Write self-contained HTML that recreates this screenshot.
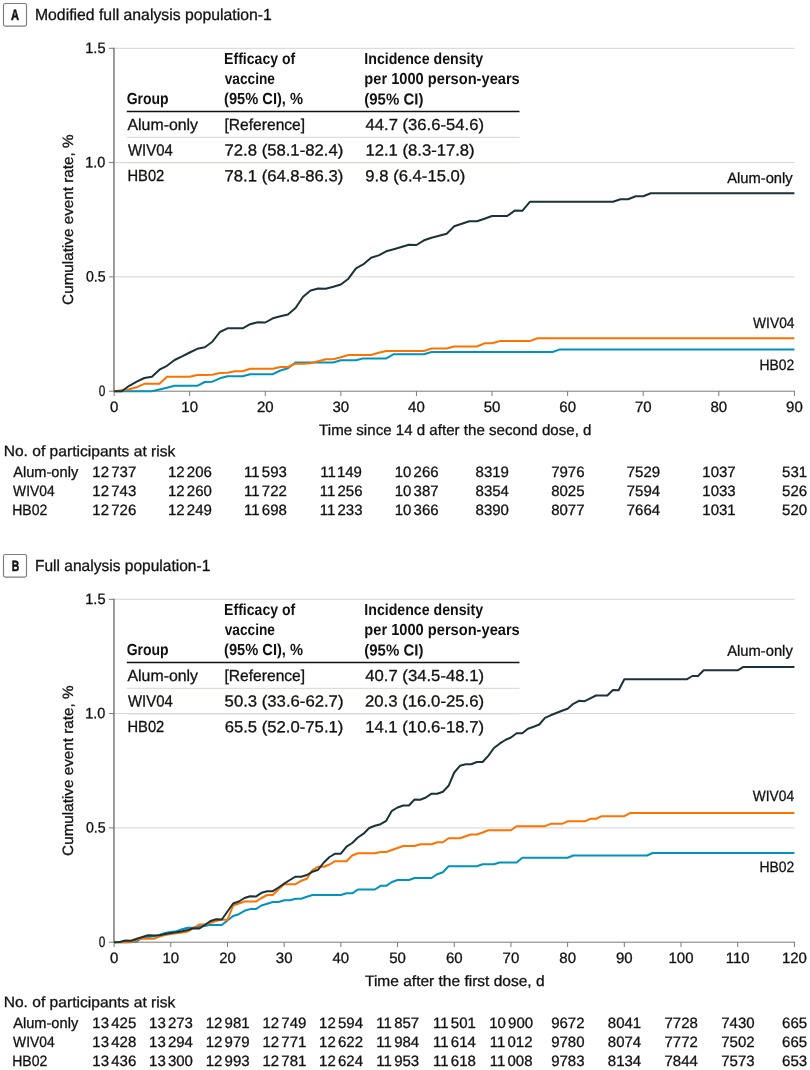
<!DOCTYPE html>
<html lang="en"><head><meta charset="utf-8"><title>Cumulative event rate</title>
<style>html,body{margin:0;padding:0;background:#fff}svg{display:block}.r{stroke:#111;stroke-width:0.3px}.bx{stroke:#111;stroke-width:0.5px}</style></head>
<body>
<svg width="810" height="1070" viewBox="0 0 810 1070" font-family='"Liberation Sans", sans-serif' fill="#111" style="text-rendering:geometricPrecision">
<rect width="810" height="1070" fill="#fff"/>
<rect x="3.5" y="3.5" width="23" height="22.6" rx="1.8" fill="#fff" stroke="#7c7c7c" stroke-width="1.15"/>
<line x1="114.1" x2="794.4" y1="48.3" y2="48.3" stroke="#d4d4d4" stroke-width="1"/>
<line x1="114.1" x2="794.4" y1="162.6" y2="162.6" stroke="#d4d4d4" stroke-width="1"/>
<line x1="114.1" x2="794.4" y1="276.9" y2="276.9" stroke="#d4d4d4" stroke-width="1"/>
<line x1="126.8" x2="519.5" y1="137.3" y2="137.3" stroke="#d8d6cc" stroke-width="1"/>
<line x1="126.8" x2="519.5" y1="162.8" y2="162.8" stroke="#d8d6cc" stroke-width="1"/>
<line x1="126.8" x2="519.5" y1="111.5" y2="111.5" stroke="#111" stroke-width="1.3"/>
<line x1="113.95" x2="113.95" y1="47.8" y2="391.7" stroke="#7a7a7a" stroke-width="1.5"/>
<line x1="113.20" x2="794.90" y1="391.2" y2="391.2" stroke="#7a7a7a" stroke-width="1"/>
<line x1="108.90" x2="114.1" y1="48.3" y2="48.3" stroke="#7a7a7a" stroke-width="1"/>
<line x1="108.90" x2="114.1" y1="162.6" y2="162.6" stroke="#7a7a7a" stroke-width="1"/>
<line x1="108.90" x2="114.1" y1="276.9" y2="276.9" stroke="#7a7a7a" stroke-width="1"/>
<line x1="108.90" x2="114.1" y1="391.2" y2="391.2" stroke="#7a7a7a" stroke-width="1"/>
<line x1="114.10" x2="114.10" y1="391.2" y2="396.0" stroke="#7a7a7a" stroke-width="1"/>
<line x1="189.69" x2="189.69" y1="391.2" y2="396.0" stroke="#7a7a7a" stroke-width="1"/>
<line x1="265.28" x2="265.28" y1="391.2" y2="396.0" stroke="#7a7a7a" stroke-width="1"/>
<line x1="340.87" x2="340.87" y1="391.2" y2="396.0" stroke="#7a7a7a" stroke-width="1"/>
<line x1="416.46" x2="416.46" y1="391.2" y2="396.0" stroke="#7a7a7a" stroke-width="1"/>
<line x1="492.04" x2="492.04" y1="391.2" y2="396.0" stroke="#7a7a7a" stroke-width="1"/>
<line x1="567.63" x2="567.63" y1="391.2" y2="396.0" stroke="#7a7a7a" stroke-width="1"/>
<line x1="643.22" x2="643.22" y1="391.2" y2="396.0" stroke="#7a7a7a" stroke-width="1"/>
<line x1="718.81" x2="718.81" y1="391.2" y2="396.0" stroke="#7a7a7a" stroke-width="1"/>
<line x1="794.40" x2="794.40" y1="391.2" y2="396.0" stroke="#7a7a7a" stroke-width="1"/>
<polyline points="114.10,391.20 121.66,391.20 129.22,391.20 136.78,391.20 144.34,391.20 151.89,391.20 159.45,389.50 167.01,387.70 174.57,385.80 182.13,385.80 189.69,385.80 197.25,385.80 204.81,382.00 212.37,381.70 219.92,378.30 227.48,376.30 235.04,376.30 242.60,376.20 250.16,374.20 257.72,374.20 265.28,374.20 272.84,374.20 280.40,370.50 287.95,368.30 295.51,362.50 303.07,362.50 310.63,362.50 318.19,362.50 325.75,362.50 333.31,362.50 340.87,360.30 348.43,360.30 355.98,360.30 363.54,358.40 371.10,358.40 378.66,358.40 386.22,358.40 393.78,354.20 401.34,354.20 408.90,354.20 416.46,354.20 424.01,354.20 431.57,352.00 439.13,352.00 446.69,352.00 454.25,352.00 461.81,352.00 469.37,352.00 476.93,352.00 484.49,352.00 492.04,352.00 499.60,352.00 507.16,352.00 514.72,352.00 522.28,352.00 529.84,352.00 537.40,352.00 544.96,352.00 552.52,352.00 560.07,349.40 567.63,349.40 575.19,349.40 582.75,349.40 590.31,349.40 597.87,349.40 605.43,349.40 612.99,349.40 620.55,349.40 628.10,349.40 635.66,349.40 643.22,349.40 650.78,349.40 658.34,349.40 665.90,349.40 673.46,349.40 681.02,349.40 688.58,349.40 696.13,349.40 703.69,349.40 711.25,349.40 718.81,349.40 726.37,349.40 733.93,349.40 741.49,349.40 749.05,349.40 756.61,349.40 764.16,349.40 771.72,349.40 779.28,349.40 786.84,349.40 794.40,349.40" fill="none" stroke="#0093bd" stroke-width="2" stroke-linejoin="round" stroke-linecap="butt"/>
<polyline points="114.10,391.20 121.66,390.20 129.22,389.20 136.78,387.20 144.34,383.80 151.89,383.80 159.45,383.80 167.01,376.70 174.57,376.70 182.13,376.70 189.69,376.70 197.25,375.00 204.81,375.00 212.37,374.70 219.92,373.00 227.48,372.80 235.04,371.30 242.60,371.20 250.16,368.80 257.72,368.80 265.28,368.80 272.84,368.80 280.40,367.00 287.95,367.00 295.51,363.70 303.07,363.70 310.63,363.30 318.19,361.20 325.75,359.20 333.31,359.20 340.87,357.20 348.43,355.00 355.98,355.00 363.54,355.00 371.10,355.00 378.66,352.80 386.22,351.00 393.78,351.00 401.34,351.00 408.90,351.00 416.46,351.00 424.01,351.00 431.57,348.50 439.13,348.50 446.69,348.50 454.25,346.50 461.81,346.50 469.37,346.50 476.93,346.50 484.49,343.30 492.04,343.30 499.60,341.10 507.16,341.10 514.72,341.10 522.28,341.10 529.84,341.10 537.40,338.30 544.96,338.30 552.52,338.30 560.07,338.30 567.63,338.30 575.19,338.30 582.75,338.30 590.31,338.30 597.87,338.30 605.43,338.30 612.99,338.30 620.55,338.30 628.10,338.30 635.66,338.30 643.22,338.30 650.78,338.30 658.34,338.30 665.90,338.30 673.46,338.30 681.02,338.30 688.58,338.30 696.13,338.30 703.69,338.30 711.25,338.30 718.81,338.30 726.37,338.30 733.93,338.30 741.49,338.30 749.05,338.30 756.61,338.30 764.16,338.30 771.72,338.30 779.28,338.30 786.84,338.30 794.40,338.30" fill="none" stroke="#ff7200" stroke-width="2" stroke-linejoin="round" stroke-linecap="butt"/>
<polyline points="114.10,391.20 121.66,391.20 129.22,385.80 136.78,381.70 144.34,378.00 151.89,376.70 159.45,369.70 167.01,365.80 174.57,360.00 182.13,356.30 189.69,352.50 197.25,348.80 204.81,347.20 212.37,341.70 219.92,332.00 227.48,328.30 235.04,328.30 242.60,328.30 250.16,324.20 257.72,322.20 265.28,322.50 272.84,318.30 280.40,316.30 287.95,314.50 295.51,308.00 303.07,296.70 310.63,290.50 318.19,288.50 325.75,288.80 333.31,286.80 340.87,284.50 348.43,278.70 355.98,268.30 363.54,264.20 371.10,257.80 378.66,255.40 386.22,251.30 393.78,249.20 401.34,247.00 408.90,244.80 416.46,245.00 424.01,240.30 431.57,237.80 439.13,235.80 446.69,233.70 454.25,226.30 461.81,223.80 469.37,221.30 476.93,221.30 484.49,218.70 492.04,216.00 499.60,216.00 507.16,216.00 514.72,210.60 522.28,210.80 529.84,201.80 537.40,201.80 544.96,201.80 552.52,201.80 560.07,201.80 567.63,201.80 575.19,201.80 582.75,201.80 590.31,201.80 597.87,201.80 605.43,201.80 612.99,201.80 620.55,199.30 628.10,199.30 635.66,196.30 643.22,196.30 650.78,193.30 658.34,193.30 665.90,193.30 673.46,193.30 681.02,193.30 688.58,193.30 696.13,193.30 703.69,193.30 711.25,193.30 718.81,193.30 726.37,193.30 733.93,193.30 741.49,193.30 749.05,193.30 756.61,193.30 764.16,193.30 771.72,193.30 779.28,193.30 786.84,193.30 794.40,193.30" fill="none" stroke="#1b323a" stroke-width="2" stroke-linejoin="round" stroke-linecap="butt"/>
<rect x="3.5" y="554.5" width="23" height="22.6" rx="1.8" fill="#fff" stroke="#7c7c7c" stroke-width="1.15"/>
<line x1="114.1" x2="794.4" y1="599.3" y2="599.3" stroke="#d4d4d4" stroke-width="1"/>
<line x1="114.1" x2="794.4" y1="713.6" y2="713.6" stroke="#d4d4d4" stroke-width="1"/>
<line x1="114.1" x2="794.4" y1="827.9" y2="827.9" stroke="#d4d4d4" stroke-width="1"/>
<line x1="126.8" x2="519.5" y1="688.3" y2="688.3" stroke="#d8d6cc" stroke-width="1"/>
<line x1="126.8" x2="519.5" y1="713.8" y2="713.8" stroke="#d8d6cc" stroke-width="1"/>
<line x1="126.8" x2="519.5" y1="662.5" y2="662.5" stroke="#111" stroke-width="1.3"/>
<line x1="113.95" x2="113.95" y1="598.8" y2="942.7" stroke="#7a7a7a" stroke-width="1.5"/>
<line x1="113.20" x2="794.90" y1="942.2" y2="942.2" stroke="#7a7a7a" stroke-width="1"/>
<line x1="108.90" x2="114.1" y1="599.3" y2="599.3" stroke="#7a7a7a" stroke-width="1"/>
<line x1="108.90" x2="114.1" y1="713.6" y2="713.6" stroke="#7a7a7a" stroke-width="1"/>
<line x1="108.90" x2="114.1" y1="827.9" y2="827.9" stroke="#7a7a7a" stroke-width="1"/>
<line x1="108.90" x2="114.1" y1="942.2" y2="942.2" stroke="#7a7a7a" stroke-width="1"/>
<line x1="114.10" x2="114.10" y1="942.2" y2="947.0" stroke="#7a7a7a" stroke-width="1"/>
<line x1="170.79" x2="170.79" y1="942.2" y2="947.0" stroke="#7a7a7a" stroke-width="1"/>
<line x1="227.48" x2="227.48" y1="942.2" y2="947.0" stroke="#7a7a7a" stroke-width="1"/>
<line x1="284.17" x2="284.17" y1="942.2" y2="947.0" stroke="#7a7a7a" stroke-width="1"/>
<line x1="340.87" x2="340.87" y1="942.2" y2="947.0" stroke="#7a7a7a" stroke-width="1"/>
<line x1="397.56" x2="397.56" y1="942.2" y2="947.0" stroke="#7a7a7a" stroke-width="1"/>
<line x1="454.25" x2="454.25" y1="942.2" y2="947.0" stroke="#7a7a7a" stroke-width="1"/>
<line x1="510.94" x2="510.94" y1="942.2" y2="947.0" stroke="#7a7a7a" stroke-width="1"/>
<line x1="567.63" x2="567.63" y1="942.2" y2="947.0" stroke="#7a7a7a" stroke-width="1"/>
<line x1="624.32" x2="624.32" y1="942.2" y2="947.0" stroke="#7a7a7a" stroke-width="1"/>
<line x1="681.02" x2="681.02" y1="942.2" y2="947.0" stroke="#7a7a7a" stroke-width="1"/>
<line x1="737.71" x2="737.71" y1="942.2" y2="947.0" stroke="#7a7a7a" stroke-width="1"/>
<line x1="794.40" x2="794.40" y1="942.2" y2="947.0" stroke="#7a7a7a" stroke-width="1"/>
<polyline points="114.10,942.20 119.77,942.20 125.44,942.20 131.11,942.20 136.78,941.50 142.45,937.50 148.12,937.00 153.78,936.20 159.45,935.00 165.12,933.00 170.79,932.00 176.46,931.20 182.13,929.30 187.80,927.80 193.47,927.80 199.14,926.50 204.81,926.00 210.48,924.80 216.14,925.00 221.81,925.00 227.48,920.50 233.15,916.00 238.82,914.20 244.49,910.80 250.16,909.10 255.83,909.10 261.50,905.50 267.17,903.80 272.84,902.00 278.51,902.00 284.17,900.30 289.84,900.30 295.51,898.70 301.18,898.70 306.85,896.70 312.52,895.00 318.19,895.00 323.86,895.00 329.53,895.00 335.20,895.00 340.87,895.00 346.54,893.30 352.20,893.30 357.87,889.50 363.54,889.50 369.21,889.50 374.88,889.50 380.55,885.80 386.22,885.80 391.89,882.00 397.56,880.00 403.23,880.00 408.90,880.00 414.57,878.00 420.24,878.00 425.90,878.00 431.57,878.00 437.24,874.20 442.91,872.20 448.58,866.30 454.25,866.30 459.92,866.30 465.59,866.30 471.26,866.30 476.93,866.30 482.60,864.30 488.26,864.30 493.93,864.30 499.60,862.50 505.27,862.50 510.94,862.50 516.61,862.50 522.28,857.80 527.95,857.80 533.62,857.80 539.29,857.80 544.96,857.80 550.63,857.80 556.29,857.80 561.96,857.80 567.63,857.80 573.30,855.50 578.97,855.50 584.64,855.50 590.31,855.50 595.98,855.50 601.65,855.50 607.32,855.50 612.99,855.50 618.66,855.50 624.32,855.50 629.99,855.50 635.66,855.50 641.33,855.50 647.00,855.50 652.67,853.00 658.34,853.00 664.01,853.00 669.68,853.00 675.35,853.00 681.02,853.00 686.69,853.00 692.36,853.00 698.02,853.00 703.69,853.00 709.36,853.00 715.03,853.00 720.70,853.00 726.37,853.00 732.04,853.00 737.71,853.00 743.38,853.00 749.05,853.00 754.72,853.00 760.38,853.00 766.05,853.00 771.72,853.00 777.39,853.00 783.06,853.00 788.73,853.00 794.40,853.00" fill="none" stroke="#0093bd" stroke-width="2" stroke-linejoin="round" stroke-linecap="butt"/>
<polyline points="114.10,942.20 119.77,942.20 125.44,942.20 131.11,942.00 136.78,940.00 142.45,938.50 148.12,938.70 153.78,938.70 159.45,936.50 165.12,935.00 170.79,934.00 176.46,933.20 182.13,932.50 187.80,931.60 193.47,928.00 199.14,924.50 204.81,924.50 210.48,922.80 216.14,921.00 221.81,919.50 227.48,920.00 233.15,905.50 238.82,903.50 244.49,901.50 250.16,901.60 255.83,901.60 261.50,898.00 267.17,895.00 272.84,895.00 278.51,889.20 284.17,884.20 289.84,884.20 295.51,884.20 301.18,880.80 306.85,878.80 312.52,870.00 318.19,866.70 323.86,866.70 329.53,864.50 335.20,861.20 340.87,861.20 346.54,861.20 352.20,855.50 357.87,853.30 363.54,853.30 369.21,853.30 374.88,853.30 380.55,852.00 386.22,852.00 391.89,850.00 397.56,848.00 403.23,846.00 408.90,846.00 414.57,846.00 420.24,844.20 425.90,844.20 431.57,844.20 437.24,842.20 442.91,842.20 448.58,838.30 454.25,838.30 459.92,838.30 465.59,836.30 471.26,834.50 476.93,834.50 482.60,832.50 488.26,830.30 493.93,830.30 499.60,830.30 505.27,830.30 510.94,830.30 516.61,826.20 522.28,826.20 527.95,826.20 533.62,826.20 539.29,826.20 544.96,826.20 550.63,823.80 556.29,823.80 561.96,823.80 567.63,821.30 573.30,821.30 578.97,821.30 584.64,821.30 590.31,818.80 595.98,818.80 601.65,816.20 607.32,816.20 612.99,816.20 618.66,816.20 624.32,816.20 629.99,813.10 635.66,813.10 641.33,813.10 647.00,813.10 652.67,813.10 658.34,813.10 664.01,813.10 669.68,813.10 675.35,813.10 681.02,813.10 686.69,813.10 692.36,813.10 698.02,813.10 703.69,813.10 709.36,813.10 715.03,813.10 720.70,813.10 726.37,813.10 732.04,813.10 737.71,813.10 743.38,813.10 749.05,813.10 754.72,813.10 760.38,813.10 766.05,813.10 771.72,813.10 777.39,813.10 783.06,813.10 788.73,813.10 794.40,813.10" fill="none" stroke="#ff7200" stroke-width="2" stroke-linejoin="round" stroke-linecap="butt"/>
<polyline points="114.10,942.20 119.77,942.00 125.44,940.50 131.11,940.70 136.78,938.70 142.45,937.00 148.12,935.20 153.78,935.50 159.45,935.30 165.12,934.00 170.79,933.00 176.46,932.20 182.13,931.20 187.80,930.00 193.47,928.30 199.14,928.60 204.81,925.00 210.48,921.00 216.14,919.30 221.81,919.50 227.48,911.50 233.15,903.50 238.82,901.50 244.49,898.00 250.16,896.20 255.83,896.60 261.50,892.80 267.17,891.20 272.84,891.20 278.51,887.50 284.17,883.70 289.84,880.00 295.51,876.70 301.18,876.70 306.85,875.00 312.52,871.70 318.19,869.70 323.86,862.50 329.53,857.00 335.20,853.70 340.87,853.70 346.54,846.70 352.20,843.00 357.87,837.50 363.54,833.70 369.21,828.00 374.88,825.80 380.55,824.20 386.22,820.80 391.89,810.80 397.56,807.50 403.23,805.50 408.90,805.50 414.57,799.50 420.24,799.70 425.90,797.50 431.57,793.70 437.24,793.70 442.91,791.70 448.58,785.80 454.25,772.50 459.92,765.80 465.59,764.20 471.26,764.20 476.93,762.00 482.60,762.00 488.26,755.80 493.93,748.00 499.60,743.70 505.27,740.00 510.94,737.50 516.61,733.30 522.28,733.30 527.95,728.70 533.62,726.70 539.29,724.50 544.96,717.80 550.63,715.30 556.29,713.00 561.96,710.80 567.63,708.70 573.30,703.80 578.97,700.80 584.64,701.20 590.31,698.30 595.98,695.50 601.65,695.50 607.32,695.50 612.99,690.00 618.66,690.30 624.32,679.30 629.99,679.30 635.66,679.30 641.33,679.30 647.00,679.30 652.67,679.30 658.34,679.30 664.01,679.30 669.68,679.30 675.35,679.30 681.02,679.30 686.69,679.30 692.36,676.00 698.02,676.00 703.69,670.30 709.36,670.30 715.03,670.30 720.70,670.30 726.37,670.30 732.04,670.30 737.71,670.30 743.38,666.90 749.05,666.90 754.72,666.90 760.38,666.90 766.05,666.90 771.72,666.90 777.39,666.90 783.06,666.90 788.73,666.90 794.40,666.90" fill="none" stroke="#1b323a" stroke-width="2" stroke-linejoin="round" stroke-linecap="butt"/>
<text transform="translate(10.95 19.60) skewY(0.03)" font-size="15" font-weight="bold" class="bx" textLength="8.04" lengthAdjust="spacingAndGlyphs">A</text>
<text transform="translate(34.94 20.00) skewY(0.03)" font-size="16" class="r" textLength="236.90" lengthAdjust="spacingAndGlyphs">Modified full analysis population-1</text>
<text transform="translate(85.24 53.00) skewY(0.03)" font-size="15" class="r" textLength="20.24" lengthAdjust="spacingAndGlyphs">1.5</text>
<text transform="translate(85.24 167.30) skewY(0.03)" font-size="15" class="r" textLength="20.14" lengthAdjust="spacingAndGlyphs">1.0</text>
<text transform="translate(85.89 281.60) skewY(0.03)" font-size="15" class="r" textLength="19.71" lengthAdjust="spacingAndGlyphs">0.5</text>
<text transform="translate(98.63 395.90) skewY(0.03)" font-size="15" class="r" textLength="6.60" lengthAdjust="spacingAndGlyphs">0</text>
<text transform="translate(126.69 104.40) skewY(0.03)" font-size="16" font-weight="bold" textLength="41.98" lengthAdjust="spacingAndGlyphs">Group</text>
<text transform="translate(224.10 64.00) skewY(0.03)" font-size="16" font-weight="bold" textLength="71.09" lengthAdjust="spacingAndGlyphs">Efficacy of</text>
<text transform="translate(224.74 84.20) skewY(0.03)" font-size="16" font-weight="bold" textLength="50.20" lengthAdjust="spacingAndGlyphs">vaccine</text>
<text transform="translate(224.10 104.40) skewY(0.03)" font-size="16" font-weight="bold" textLength="78.92" lengthAdjust="spacingAndGlyphs">(95% CI), %</text>
<text transform="translate(364.30 64.00) skewY(0.03)" font-size="16" font-weight="bold" textLength="118.80" lengthAdjust="spacingAndGlyphs">Incidence density</text>
<text transform="translate(364.30 84.20) skewY(0.03)" font-size="16" font-weight="bold" textLength="155.46" lengthAdjust="spacingAndGlyphs">per 1000 person-years</text>
<text transform="translate(364.30 104.40) skewY(0.03)" font-size="16" font-weight="bold" textLength="59.08" lengthAdjust="spacingAndGlyphs">(95% CI)</text>
<text transform="translate(127.48 129.90) skewY(0.03)" font-size="16" class="r" textLength="70.56" lengthAdjust="spacingAndGlyphs">Alum-only</text>
<text transform="translate(127.89 155.50) skewY(0.03)" font-size="16" class="r" textLength="44.89" lengthAdjust="spacingAndGlyphs">WIV04</text>
<text transform="translate(127.49 181.30) skewY(0.03)" font-size="16" class="r" textLength="36.78" lengthAdjust="spacingAndGlyphs">HB02</text>
<text transform="translate(224.52 129.90) skewY(0.03)" font-size="16" class="r" textLength="80.60" lengthAdjust="spacingAndGlyphs">[Reference]</text>
<text transform="translate(224.53 155.50) skewY(0.03)" font-size="16" class="r" textLength="118.70" lengthAdjust="spacingAndGlyphs">72.8 (58.1-82.4)</text>
<text transform="translate(224.53 181.30) skewY(0.03)" font-size="16" class="r" textLength="118.70" lengthAdjust="spacingAndGlyphs">78.1 (64.8-86.3)</text>
<text transform="translate(365.58 129.90) skewY(0.03)" font-size="16" class="r" textLength="118.35" lengthAdjust="spacingAndGlyphs">44.7 (36.6-54.6)</text>
<text transform="translate(365.46 155.50) skewY(0.03)" font-size="16" class="r" textLength="109.17" lengthAdjust="spacingAndGlyphs">12.1 (8.3-17.8)</text>
<text transform="translate(365.35 181.30) skewY(0.03)" font-size="16" class="r" textLength="100.03" lengthAdjust="spacingAndGlyphs">9.8 (6.4-15.0)</text>
<text transform="translate(727.18 183.00) skewY(0.03)" font-size="15" class="r" textLength="65.54" lengthAdjust="spacingAndGlyphs">Alum-only</text>
<text transform="translate(753.10 328.40) skewY(0.03)" font-size="15" class="r" textLength="41.41" lengthAdjust="spacingAndGlyphs">WIV04</text>
<text transform="translate(759.43 369.80) skewY(0.03)" font-size="15" class="r" textLength="34.76" lengthAdjust="spacingAndGlyphs">HB02</text>
<text transform="translate(319.11 434.90) skewY(0.03)" font-size="15" class="r" textLength="272.35" lengthAdjust="spacingAndGlyphs">Time since 14 d after the second dose, d</text>
<text transform="translate(3.65 456.10) skewY(0.03)" font-size="15" class="r" textLength="171.68" lengthAdjust="spacingAndGlyphs">No. of participants at risk</text>
<text transform="translate(13.18 476.90) skewY(0.03)" font-size="15" class="r" textLength="65.02" lengthAdjust="spacingAndGlyphs">Alum-only</text>
<text transform="translate(13.10 495.90) skewY(0.03)" font-size="15" class="r" textLength="41.49" lengthAdjust="spacingAndGlyphs">WIV04</text>
<text transform="translate(12.22 515.00) skewY(0.03)" font-size="15" class="r" textLength="35.06" lengthAdjust="spacingAndGlyphs">HB02</text>
<text transform="translate(11.73 570.60) skewY(0.03)" font-size="15" font-weight="bold" class="bx" textLength="7.49" lengthAdjust="spacingAndGlyphs">B</text>
<text transform="translate(34.95 571.00) skewY(0.03)" font-size="16" class="r" textLength="175.36" lengthAdjust="spacingAndGlyphs">Full analysis population-1</text>
<text transform="translate(85.24 604.00) skewY(0.03)" font-size="15" class="r" textLength="20.24" lengthAdjust="spacingAndGlyphs">1.5</text>
<text transform="translate(85.24 718.30) skewY(0.03)" font-size="15" class="r" textLength="20.14" lengthAdjust="spacingAndGlyphs">1.0</text>
<text transform="translate(85.89 832.60) skewY(0.03)" font-size="15" class="r" textLength="19.71" lengthAdjust="spacingAndGlyphs">0.5</text>
<text transform="translate(98.63 946.90) skewY(0.03)" font-size="15" class="r" textLength="6.60" lengthAdjust="spacingAndGlyphs">0</text>
<text transform="translate(126.69 655.40) skewY(0.03)" font-size="16" font-weight="bold" textLength="41.98" lengthAdjust="spacingAndGlyphs">Group</text>
<text transform="translate(224.10 615.00) skewY(0.03)" font-size="16" font-weight="bold" textLength="71.09" lengthAdjust="spacingAndGlyphs">Efficacy of</text>
<text transform="translate(224.74 635.20) skewY(0.03)" font-size="16" font-weight="bold" textLength="50.20" lengthAdjust="spacingAndGlyphs">vaccine</text>
<text transform="translate(224.10 655.40) skewY(0.03)" font-size="16" font-weight="bold" textLength="78.92" lengthAdjust="spacingAndGlyphs">(95% CI), %</text>
<text transform="translate(364.30 615.00) skewY(0.03)" font-size="16" font-weight="bold" textLength="118.80" lengthAdjust="spacingAndGlyphs">Incidence density</text>
<text transform="translate(364.30 635.20) skewY(0.03)" font-size="16" font-weight="bold" textLength="155.46" lengthAdjust="spacingAndGlyphs">per 1000 person-years</text>
<text transform="translate(364.30 655.40) skewY(0.03)" font-size="16" font-weight="bold" textLength="59.08" lengthAdjust="spacingAndGlyphs">(95% CI)</text>
<text transform="translate(127.48 680.90) skewY(0.03)" font-size="16" class="r" textLength="70.56" lengthAdjust="spacingAndGlyphs">Alum-only</text>
<text transform="translate(127.89 706.50) skewY(0.03)" font-size="16" class="r" textLength="44.89" lengthAdjust="spacingAndGlyphs">WIV04</text>
<text transform="translate(127.49 732.30) skewY(0.03)" font-size="16" class="r" textLength="36.78" lengthAdjust="spacingAndGlyphs">HB02</text>
<text transform="translate(224.52 680.90) skewY(0.03)" font-size="16" class="r" textLength="80.60" lengthAdjust="spacingAndGlyphs">[Reference]</text>
<text transform="translate(224.61 706.50) skewY(0.03)" font-size="16" class="r" textLength="118.87" lengthAdjust="spacingAndGlyphs">50.3 (33.6-62.7)</text>
<text transform="translate(224.67 732.30) skewY(0.03)" font-size="16" class="r" textLength="118.68" lengthAdjust="spacingAndGlyphs">65.5 (52.0-75.1)</text>
<text transform="translate(365.18 680.90) skewY(0.03)" font-size="16" class="r" textLength="118.86" lengthAdjust="spacingAndGlyphs">40.7 (34.5-48.1)</text>
<text transform="translate(364.94 706.50) skewY(0.03)" font-size="16" class="r" textLength="119.23" lengthAdjust="spacingAndGlyphs">20.3 (16.0-25.6)</text>
<text transform="translate(365.16 732.30) skewY(0.03)" font-size="16" class="r" textLength="118.82" lengthAdjust="spacingAndGlyphs">14.1 (10.6-18.7)</text>
<text transform="translate(727.18 655.80) skewY(0.03)" font-size="15" class="r" textLength="65.57" lengthAdjust="spacingAndGlyphs">Alum-only</text>
<text transform="translate(752.80 801.30) skewY(0.03)" font-size="15" class="r" textLength="41.29" lengthAdjust="spacingAndGlyphs">WIV04</text>
<text transform="translate(759.42 872.40) skewY(0.03)" font-size="15" class="r" textLength="34.83" lengthAdjust="spacingAndGlyphs">HB02</text>
<text transform="translate(365.01 985.90) skewY(0.03)" font-size="15" class="r" textLength="179.59" lengthAdjust="spacingAndGlyphs">Time after the first dose, d</text>
<text transform="translate(3.65 1007.10) skewY(0.03)" font-size="15" class="r" textLength="171.68" lengthAdjust="spacingAndGlyphs">No. of participants at risk</text>
<text transform="translate(13.18 1027.90) skewY(0.03)" font-size="15" class="r" textLength="65.02" lengthAdjust="spacingAndGlyphs">Alum-only</text>
<text transform="translate(13.10 1046.90) skewY(0.03)" font-size="15" class="r" textLength="41.49" lengthAdjust="spacingAndGlyphs">WIV04</text>
<text transform="translate(12.22 1066.00) skewY(0.03)" font-size="15" class="r" textLength="35.06" lengthAdjust="spacingAndGlyphs">HB02</text>
<text transform="translate(114.10 411.90) skewY(0.03)" font-size="15" class="r" text-anchor="middle">0</text>
<text transform="translate(189.69 411.90) skewY(0.03)" font-size="15" class="r" text-anchor="middle">10</text>
<text transform="translate(265.28 411.90) skewY(0.03)" font-size="15" class="r" text-anchor="middle">20</text>
<text transform="translate(340.87 411.90) skewY(0.03)" font-size="15" class="r" text-anchor="middle">30</text>
<text transform="translate(416.46 411.90) skewY(0.03)" font-size="15" class="r" text-anchor="middle">40</text>
<text transform="translate(492.04 411.90) skewY(0.03)" font-size="15" class="r" text-anchor="middle">50</text>
<text transform="translate(567.63 411.90) skewY(0.03)" font-size="15" class="r" text-anchor="middle">60</text>
<text transform="translate(643.22 411.90) skewY(0.03)" font-size="15" class="r" text-anchor="middle">70</text>
<text transform="translate(718.81 411.90) skewY(0.03)" font-size="15" class="r" text-anchor="middle">80</text>
<text transform="translate(794.40 411.90) skewY(0.03)" font-size="15" class="r" text-anchor="middle">90</text>
<text transform="translate(114.30 476.90) skewY(0.03)" font-size="15" class="r" text-anchor="middle">12<tspan dx="2.2">737</tspan></text>
<text transform="translate(189.89 476.90) skewY(0.03)" font-size="15" class="r" text-anchor="middle">12<tspan dx="2.2">206</tspan></text>
<text transform="translate(265.48 476.90) skewY(0.03)" font-size="15" class="r" text-anchor="middle">11<tspan dx="2.2">593</tspan></text>
<text transform="translate(341.07 476.90) skewY(0.03)" font-size="15" class="r" text-anchor="middle">11<tspan dx="2.2">149</tspan></text>
<text transform="translate(416.66 476.90) skewY(0.03)" font-size="15" class="r" text-anchor="middle">10<tspan dx="2.2">266</tspan></text>
<text transform="translate(492.24 476.90) skewY(0.03)" font-size="15" class="r" text-anchor="middle">8319</text>
<text transform="translate(567.83 476.90) skewY(0.03)" font-size="15" class="r" text-anchor="middle">7976</text>
<text transform="translate(643.42 476.90) skewY(0.03)" font-size="15" class="r" text-anchor="middle">7529</text>
<text transform="translate(719.01 476.90) skewY(0.03)" font-size="15" class="r" text-anchor="middle">1037</text>
<text transform="translate(794.60 476.90) skewY(0.03)" font-size="15" class="r" text-anchor="middle">531</text>
<text transform="translate(114.30 495.90) skewY(0.03)" font-size="15" class="r" text-anchor="middle">12<tspan dx="2.2">743</tspan></text>
<text transform="translate(189.89 495.90) skewY(0.03)" font-size="15" class="r" text-anchor="middle">12<tspan dx="2.2">260</tspan></text>
<text transform="translate(265.48 495.90) skewY(0.03)" font-size="15" class="r" text-anchor="middle">11<tspan dx="2.2">722</tspan></text>
<text transform="translate(341.07 495.90) skewY(0.03)" font-size="15" class="r" text-anchor="middle">11<tspan dx="2.2">256</tspan></text>
<text transform="translate(416.66 495.90) skewY(0.03)" font-size="15" class="r" text-anchor="middle">10<tspan dx="2.2">387</tspan></text>
<text transform="translate(492.24 495.90) skewY(0.03)" font-size="15" class="r" text-anchor="middle">8354</text>
<text transform="translate(567.83 495.90) skewY(0.03)" font-size="15" class="r" text-anchor="middle">8025</text>
<text transform="translate(643.42 495.90) skewY(0.03)" font-size="15" class="r" text-anchor="middle">7594</text>
<text transform="translate(719.01 495.90) skewY(0.03)" font-size="15" class="r" text-anchor="middle">1033</text>
<text transform="translate(794.60 495.90) skewY(0.03)" font-size="15" class="r" text-anchor="middle">526</text>
<text transform="translate(114.30 515.00) skewY(0.03)" font-size="15" class="r" text-anchor="middle">12<tspan dx="2.2">726</tspan></text>
<text transform="translate(189.89 515.00) skewY(0.03)" font-size="15" class="r" text-anchor="middle">12<tspan dx="2.2">249</tspan></text>
<text transform="translate(265.48 515.00) skewY(0.03)" font-size="15" class="r" text-anchor="middle">11<tspan dx="2.2">698</tspan></text>
<text transform="translate(341.07 515.00) skewY(0.03)" font-size="15" class="r" text-anchor="middle">11<tspan dx="2.2">233</tspan></text>
<text transform="translate(416.66 515.00) skewY(0.03)" font-size="15" class="r" text-anchor="middle">10<tspan dx="2.2">366</tspan></text>
<text transform="translate(492.24 515.00) skewY(0.03)" font-size="15" class="r" text-anchor="middle">8390</text>
<text transform="translate(567.83 515.00) skewY(0.03)" font-size="15" class="r" text-anchor="middle">8077</text>
<text transform="translate(643.42 515.00) skewY(0.03)" font-size="15" class="r" text-anchor="middle">7664</text>
<text transform="translate(719.01 515.00) skewY(0.03)" font-size="15" class="r" text-anchor="middle">1031</text>
<text transform="translate(794.60 515.00) skewY(0.03)" font-size="15" class="r" text-anchor="middle">520</text>
<text transform="translate(114.10 962.90) skewY(0.03)" font-size="15" class="r" text-anchor="middle">0</text>
<text transform="translate(170.79 962.90) skewY(0.03)" font-size="15" class="r" text-anchor="middle">10</text>
<text transform="translate(227.48 962.90) skewY(0.03)" font-size="15" class="r" text-anchor="middle">20</text>
<text transform="translate(284.17 962.90) skewY(0.03)" font-size="15" class="r" text-anchor="middle">30</text>
<text transform="translate(340.87 962.90) skewY(0.03)" font-size="15" class="r" text-anchor="middle">40</text>
<text transform="translate(397.56 962.90) skewY(0.03)" font-size="15" class="r" text-anchor="middle">50</text>
<text transform="translate(454.25 962.90) skewY(0.03)" font-size="15" class="r" text-anchor="middle">60</text>
<text transform="translate(510.94 962.90) skewY(0.03)" font-size="15" class="r" text-anchor="middle">70</text>
<text transform="translate(567.63 962.90) skewY(0.03)" font-size="15" class="r" text-anchor="middle">80</text>
<text transform="translate(624.32 962.90) skewY(0.03)" font-size="15" class="r" text-anchor="middle">90</text>
<text transform="translate(681.02 962.90) skewY(0.03)" font-size="15" class="r" text-anchor="middle">100</text>
<text transform="translate(737.71 962.90) skewY(0.03)" font-size="15" class="r" text-anchor="middle">110</text>
<text transform="translate(794.40 962.90) skewY(0.03)" font-size="15" class="r" text-anchor="middle">120</text>
<text transform="translate(114.30 1027.90) skewY(0.03)" font-size="15" class="r" text-anchor="middle">13<tspan dx="2.2">425</tspan></text>
<text transform="translate(170.99 1027.90) skewY(0.03)" font-size="15" class="r" text-anchor="middle">13<tspan dx="2.2">273</tspan></text>
<text transform="translate(227.68 1027.90) skewY(0.03)" font-size="15" class="r" text-anchor="middle">12<tspan dx="2.2">981</tspan></text>
<text transform="translate(284.37 1027.90) skewY(0.03)" font-size="15" class="r" text-anchor="middle">12<tspan dx="2.2">749</tspan></text>
<text transform="translate(341.07 1027.90) skewY(0.03)" font-size="15" class="r" text-anchor="middle">12<tspan dx="2.2">594</tspan></text>
<text transform="translate(397.76 1027.90) skewY(0.03)" font-size="15" class="r" text-anchor="middle">11<tspan dx="2.2">857</tspan></text>
<text transform="translate(454.45 1027.90) skewY(0.03)" font-size="15" class="r" text-anchor="middle">11<tspan dx="2.2">501</tspan></text>
<text transform="translate(511.14 1027.90) skewY(0.03)" font-size="15" class="r" text-anchor="middle">10<tspan dx="2.2">900</tspan></text>
<text transform="translate(567.83 1027.90) skewY(0.03)" font-size="15" class="r" text-anchor="middle">9672</text>
<text transform="translate(624.52 1027.90) skewY(0.03)" font-size="15" class="r" text-anchor="middle">8041</text>
<text transform="translate(681.22 1027.90) skewY(0.03)" font-size="15" class="r" text-anchor="middle">7728</text>
<text transform="translate(737.91 1027.90) skewY(0.03)" font-size="15" class="r" text-anchor="middle">7430</text>
<text transform="translate(794.60 1027.90) skewY(0.03)" font-size="15" class="r" text-anchor="middle">665</text>
<text transform="translate(114.30 1046.90) skewY(0.03)" font-size="15" class="r" text-anchor="middle">13<tspan dx="2.2">428</tspan></text>
<text transform="translate(170.99 1046.90) skewY(0.03)" font-size="15" class="r" text-anchor="middle">13<tspan dx="2.2">294</tspan></text>
<text transform="translate(227.68 1046.90) skewY(0.03)" font-size="15" class="r" text-anchor="middle">12<tspan dx="2.2">979</tspan></text>
<text transform="translate(284.37 1046.90) skewY(0.03)" font-size="15" class="r" text-anchor="middle">12<tspan dx="2.2">771</tspan></text>
<text transform="translate(341.07 1046.90) skewY(0.03)" font-size="15" class="r" text-anchor="middle">12<tspan dx="2.2">622</tspan></text>
<text transform="translate(397.76 1046.90) skewY(0.03)" font-size="15" class="r" text-anchor="middle">11<tspan dx="2.2">984</tspan></text>
<text transform="translate(454.45 1046.90) skewY(0.03)" font-size="15" class="r" text-anchor="middle">11<tspan dx="2.2">614</tspan></text>
<text transform="translate(511.14 1046.90) skewY(0.03)" font-size="15" class="r" text-anchor="middle">11<tspan dx="2.2">012</tspan></text>
<text transform="translate(567.83 1046.90) skewY(0.03)" font-size="15" class="r" text-anchor="middle">9780</text>
<text transform="translate(624.52 1046.90) skewY(0.03)" font-size="15" class="r" text-anchor="middle">8074</text>
<text transform="translate(681.22 1046.90) skewY(0.03)" font-size="15" class="r" text-anchor="middle">7772</text>
<text transform="translate(737.91 1046.90) skewY(0.03)" font-size="15" class="r" text-anchor="middle">7502</text>
<text transform="translate(794.60 1046.90) skewY(0.03)" font-size="15" class="r" text-anchor="middle">665</text>
<text transform="translate(114.30 1066.00) skewY(0.03)" font-size="15" class="r" text-anchor="middle">13<tspan dx="2.2">436</tspan></text>
<text transform="translate(170.99 1066.00) skewY(0.03)" font-size="15" class="r" text-anchor="middle">13<tspan dx="2.2">300</tspan></text>
<text transform="translate(227.68 1066.00) skewY(0.03)" font-size="15" class="r" text-anchor="middle">12<tspan dx="2.2">993</tspan></text>
<text transform="translate(284.37 1066.00) skewY(0.03)" font-size="15" class="r" text-anchor="middle">12<tspan dx="2.2">781</tspan></text>
<text transform="translate(341.07 1066.00) skewY(0.03)" font-size="15" class="r" text-anchor="middle">12<tspan dx="2.2">624</tspan></text>
<text transform="translate(397.76 1066.00) skewY(0.03)" font-size="15" class="r" text-anchor="middle">11<tspan dx="2.2">953</tspan></text>
<text transform="translate(454.45 1066.00) skewY(0.03)" font-size="15" class="r" text-anchor="middle">11<tspan dx="2.2">618</tspan></text>
<text transform="translate(511.14 1066.00) skewY(0.03)" font-size="15" class="r" text-anchor="middle">11<tspan dx="2.2">008</tspan></text>
<text transform="translate(567.83 1066.00) skewY(0.03)" font-size="15" class="r" text-anchor="middle">9783</text>
<text transform="translate(624.52 1066.00) skewY(0.03)" font-size="15" class="r" text-anchor="middle">8134</text>
<text transform="translate(681.22 1066.00) skewY(0.03)" font-size="15" class="r" text-anchor="middle">7844</text>
<text transform="translate(737.91 1066.00) skewY(0.03)" font-size="15" class="r" text-anchor="middle">7573</text>
<text transform="translate(794.60 1066.00) skewY(0.03)" font-size="15" class="r" text-anchor="middle">653</text>
<text transform="translate(73.00,219.60) rotate(-90) skewY(0.03)" x="-85.29" y="0" font-size="15" class="r" textLength="170.52" lengthAdjust="spacingAndGlyphs">Cumulative event rate, %</text>
<text transform="translate(73.00,770.60) rotate(-90) skewY(0.03)" x="-85.29" y="0" font-size="15" class="r" textLength="170.52" lengthAdjust="spacingAndGlyphs">Cumulative event rate, %</text>
</svg>
</body></html>
